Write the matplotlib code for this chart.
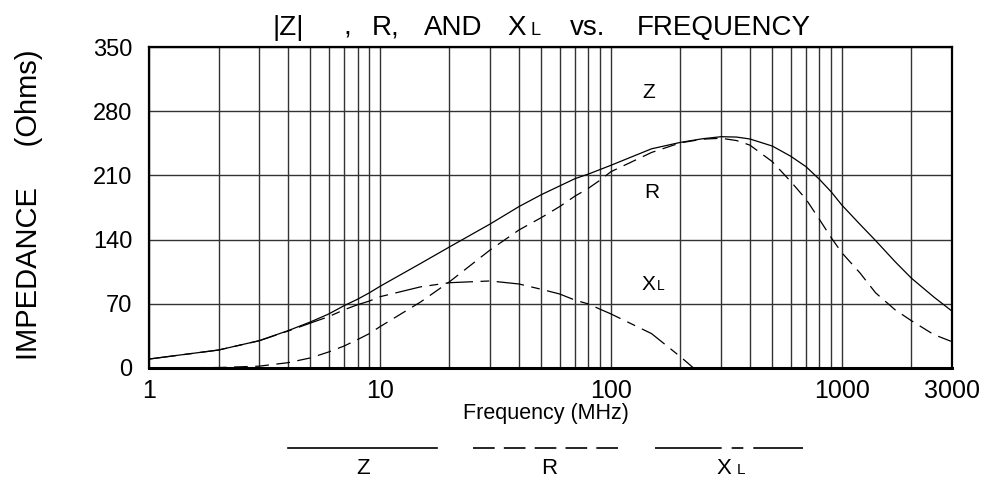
import matplotlib
matplotlib.use('Agg')
import matplotlib.pyplot as plt
from matplotlib.lines import Line2D

plt.rcParams['font.family'] = ['Liberation Sans', 'DejaVu Sans']

# values
freq = [1, 2, 3, 4, 5, 6, 7, 8, 9, 10, 15, 20, 30, 40, 50, 60, 70, 80, 90,
        100, 150, 200, 250, 300, 350, 400, 500, 600, 700, 800, 900, 1000,
        1200, 1400, 1700, 2000, 2500, 3000]
z_vals = [9.8, 19.6, 29.8, 40.7, 50.2, 58.9, 68, 75, 82, 89, 114, 132, 157, 176,
          189, 198.5, 206.5, 211.5, 216.5, 221, 239, 246, 250, 252.2, 251.8,
          249.7, 242, 231, 219.5, 205.7, 192, 177.7, 156.5, 139, 116, 98,
          77.5, 62]
r_vals = [0.2, 0.5, 2, 5.8, 11, 17.5, 24, 31, 37.5, 45, 72, 94, 128.7, 150.5,
          164, 176, 187.5, 196, 205, 214, 235, 245.5, 249.5, 250.5, 248, 243,
          225, 203.5, 184, 162, 142, 125.7, 103.5, 82, 63.5, 51.6, 36.5, 28.7]
xl_freq = [1, 2, 3, 4, 5, 6, 7, 8, 9, 10, 15, 20, 30, 40, 50, 60, 70, 80, 90,
           100, 150, 200, 228]
xl_vals = [9.7, 19.6, 29.7, 40.3, 49, 56, 63.5, 69, 73, 77.7, 88.5, 93, 94.9,
           91.6, 85.8, 80.7, 74, 69.8, 64, 59, 37.5, 12.3, 0]

y_ticks = [0, 70, 140, 210, 280, 350]
x_ticks = [1, 10, 100, 1000, 3000]
x_tick_labels = ['1', '10', '100', '1000', '3000']
x_minor = [2, 3, 4, 5, 6, 7, 8, 9, 20, 30, 40, 50, 60, 70, 80, 90,
           200, 300, 400, 500, 600, 700, 800, 900, 2000]

W, H = 994, 479
fig = plt.figure(figsize=(W / 100, H / 100), dpi=100)
ax = fig.add_axes([149 / W, 1 - 368 / H, (952 - 149) / W, (368 - 47) / H])

ax.set_xscale('log')
ax.set_xlim(1, 3000)
ax.set_ylim(0, 350)

ax.plot(freq, z_vals, color='black', lw=0.9)
ax.plot(freq, r_vals, color='black', lw=0.9, linestyle=(0, (11, 6)))
ax.plot(xl_freq, xl_vals, color='black', lw=0.9, linestyle=(0, (22, 6, 7, 6)))

ax.set_xticks(x_ticks)
ax.set_xticklabels(x_tick_labels)
ax.set_xticks(x_minor, minor=True)
ax.set_yticks(y_ticks)
ax.tick_params(which='both', length=0)
ax.tick_params(axis='x', pad=8, labelsize=18)
ax.tick_params(axis='y', pad=12, labelsize=17)
ax.grid(True, which='both', color='#333333', lw=1.0)
ax.set_axisbelow(True)
for s in ax.spines.values():
    s.set_linewidth(1.6)
ax.spines['bottom'].set_linewidth(2.2)


def fx(px):
    return px / W


def fy(py):
    return 1 - py / H


# curve labels
fig.text(fx(649), fy(93), 'Z', fontsize=15, ha='center', va='center')
fig.text(fx(652), fy(193), 'R', fontsize=15, ha='center', va='center')
fig.text(fx(648), fy(290), 'X', fontsize=15, ha='center', va='baseline')
fig.text(fx(657), fy(290), 'L', fontsize=10, ha='left', va='baseline')

# title, spread out like the original lettering
title_parts = [('|Z|', 288), (',', 347), ('R,', 386), ('AND', 453),
               ('vs.', 588), ('FREQUENCY', 724)]
for txt, cx in title_parts:
    fig.text(fx(cx), fy(35), txt, fontsize=20, ha='center', va='baseline')
fig.text(fx(517), fy(35), 'X', fontsize=20, ha='center', va='baseline')
fig.text(fx(530), fy(35), 'L', fontsize=13, ha='left', va='baseline')

fig.text(fx(546), fy(414), 'Frequency (MHz)', fontsize=15.5,
         ha='center', va='center')
fig.text(fx(29), fy(205), 'IMPEDANCE     (Ohms)', fontsize=21,
         rotation=90, ha='center', va='center')

# legend below the axes
y_leg = fy(448)
fig.add_artist(Line2D([fx(288), fx(437)], [y_leg, y_leg], color='black',
                      lw=1.2, transform=fig.transFigure))
fig.add_artist(Line2D([fx(473), fx(623)], [y_leg, y_leg], color='black',
                      lw=1.2, linestyle=(0, (13, 5.5)), transform=fig.transFigure))
fig.add_artist(Line2D([fx(655), fx(803)], [y_leg, y_leg], color='black',
                      lw=1.2, linestyle=(0, (40, 6, 7, 6)), transform=fig.transFigure))
fig.text(fx(363), fy(474), 'Z', fontsize=16, ha='center', va='baseline')
fig.text(fx(549), fy(474), 'R', fontsize=16, ha='center', va='baseline')
fig.text(fx(724), fy(474), 'X', fontsize=16, ha='center', va='baseline')
fig.text(fx(737), fy(474), 'L', fontsize=11, ha='left', va='baseline')

fig.savefig('out.png', dpi=100)
